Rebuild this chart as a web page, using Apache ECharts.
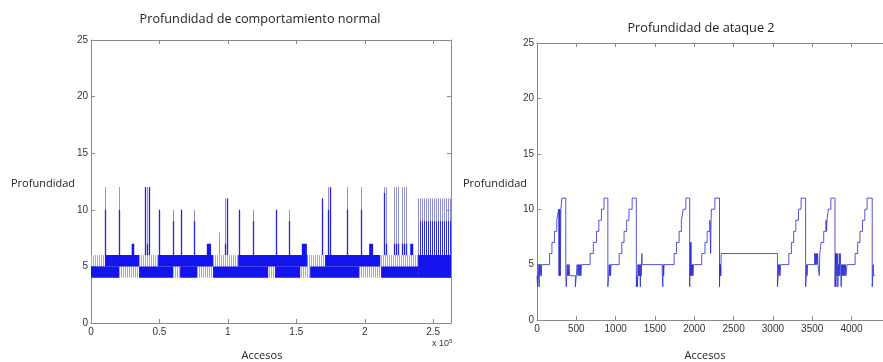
<!DOCTYPE html>
<html>
<head>
<meta charset="utf-8">
<script src="https://cdn.jsdelivr.net/npm/echarts@6.0.0/dist/echarts.min.js"></script>
<style>
html,body{margin:0;padding:0;background:#fff}
#chart{width:883px;height:362px}
</style>
</head>
<body>
<div id="chart"></div>
<script>
// --- comportamiento normal (x in accesos) ---
// zonas de oscilacion rapida [desde, hasta, min, max]
var normSparse = [[0, 239000, 4, 6]];
var normLow = [[0, 20500, 4, 5], [35100, 59900, 4, 5], [65100, 77500, 4, 5], [89200, 129400, 4, 5],
               [134500, 152800, 4, 5], [160100, 195900, 4, 5], [212000, 239000, 4, 5]];
var normHigh = [[10200, 35100, 5, 6], [49000, 89200, 5, 6], [107500, 158000, 5, 6], [171000, 211300, 5, 6]];
var normBumps = [[29700, 31600, 6, 7], [84600, 87700, 6, 7], [154000, 157700, 6, 7],
                 [203200, 206100, 6, 7], [233200, 235400, 6, 7]];
var normDense = [[239000, 263000, 4, 11]];
var normDenseCore = [[240500, 263000, 4, 9]];
var normDenseBase = [[239000, 263000, 4, 6]];
// picos [acceso, profundidad max, profundidad frecuente]
var normSpikes = [[10200, 12, 10], [20500, 12, 10], [39500, 12, 12], [40700, 12, 7], [42600, 12, 12],
  [49900, 10, 10], [60200, 10, 9], [65600, 10, 10], [75500, 10, 9], [93600, 8, 6], [98000, 11, 7],
  [99200, 11, 11], [108000, 10, 10], [118200, 10, 9], [135200, 10, 10], [145000, 10, 9],
  [169100, 11, 11], [173000, 12, 10], [174700, 12, 12], [186900, 12, 10], [197400, 12, 10],
  [213700, 12, 11.5], [215400, 12, 7], [221500, 12, 7], [223000, 12, 7], [224400, 12, 7],
  [227100, 12, 7], [228500, 12, 7], [230300, 12, 7]];

// --- ataque 2: [acceso, profundidad] escalonado ---
var ataque2 = [[0,4],[8,3],[14,5],[20,4],[28,3],[34,5],[40,4],[48,5],[54,4],[60,5],
  [160,6],[190,7],[222,8],[251,9],[276,10],[280,4],[284,10],[288,4],[292,10],[296,4],[300,7],[304,10],[317,11],[366,4],
  [372,3],[378,4],[384,5],[390,4],[396,5],[402,4],[408,5],[414,4],[488,3],[500,4],[510,5],[520,4],[528,5],[534,4],[540,5],[546,4],[552,5],[558,4],[566,5],
  [675,6],[716,7],[757,8],[786,9],[819,10],[852,11],[901,3],[912,4],[918,5],[924,4],[930,5],[936,4],[942,5],
  [1045,6],[1078,7],[1107,8],[1140,9],[1169,10],[1210,11],[1263,3],[1272,4],[1278,3],[1284,5],[1290,4],[1296,5],[1302,4],[1308,5],[1314,3],[1320,5],[1326,4],[1333,6],[1338,5],
  [1593,4],[1600,3],[1606,5],[1611,4],[1616,5],
  [1744,6],[1774,7],[1807,8],[1836,9],[1860,10],[1893,11],[1942,3],[1950,7],[1954,4],[1958,7],[1962,4],[1966,5],[1972,4],[1978,5],[1984,4],[1991,5],
  [2095,6],[2136,7],[2164,8],[2198,9],[2208,6],[2214,9],[2218,10],[2262,11],[2321,3],[2326,5],[2330,4],[2334,5],[2338,4],[2342,6],
  [3058,3],[3066,4],[3072,5],[3078,4],[3084,5],[3090,4],[3099,5],
  [3202,6],[3235,7],[3264,8],[3292,9],[3325,10],[3358,11],[3416,3],[3425,4],[3430,5],[3435,4],[3440,5],
  [3531,6],[3538,5],[3544,6],[3550,5],[3556,6],[3562,5],[3568,6],[3574,5],[3590,4],[3596,6],[3613,7],[3646,8],[3675,9],[3682,8],[3688,9],[3704,10],[3737,11],[3790,3],
  [3796,6],[3802,3],[3808,6],[3814,4],[3820,6],[3826,3],[3832,5],[3838,4],[3844,6],[3850,4],[3856,6],[3862,5],[3868,3],[3874,5],[3880,4],[3886,5],[3892,4],[3898,5],[3904,4],[3910,5],[3916,4],[3922,5],[3928,4],[3942,5],
  [4045,6],[4078,7],[4107,8],[4140,9],[4169,10],[4198,11],[4263,3],[4270,4],[4276,5],[4282,4],[4300,4]];

var axisGray = '#8a8a8a';
var labelFont = { fontFamily: 'Liberation Sans', fontSize: 10, color: '#333' };

function bandItem(color) {
  return function (params, api) {
    var a = api.coord([api.value(0), api.value(3)]);
    var b = api.coord([api.value(1), api.value(2)]);
    return { type: 'rect', shape: { x: a[0], y: a[1], width: b[0] - a[0], height: b[1] - a[1] }, style: { fill: color } };
  };
}
function stripeItem(color, gap) {
  return function (params, api) {
    var a = api.coord([api.value(0), api.value(3)]);
    var b = api.coord([api.value(1), api.value(2)]);
    var kids = [];
    for (var x = Math.round(a[0]) + 0.5; x < b[0]; x += gap) {
      kids.push({ type: 'line', shape: { x1: x, y1: a[1], x2: x, y2: b[1] }, style: { stroke: color, lineWidth: 1 } });
    }
    return { type: 'group', children: kids };
  };
}
function spikeItem(params, api) {
  var base = api.coord([api.value(0), 6]);
  var top = api.coord([api.value(0), api.value(1)]);
  var mid = api.coord([api.value(0), api.value(2)]);
  var x = Math.round(base[0]) + 0.5;
  return { type: 'group', children: [
    { type: 'line', shape: { x1: x, y1: base[1], x2: x, y2: top[1] }, style: { stroke: '#9494d0', lineWidth: 1 } },
    { type: 'line', shape: { x1: x, y1: base[1], x2: x, y2: mid[1] }, style: { stroke: '#2424e0', lineWidth: 1.3 } }
  ] };
}
function custom(data, render, z) {
  return { type: 'custom', xAxisIndex: 0, yAxisIndex: 0, data: data, renderItem: render, clip: true, z: z,
           encode: { x: [0, 1], y: [2, 3] }, silent: true };
}

function bottomAxis(grid, max, interval, fmt) {
  return { type: 'value', gridIndex: grid, min: 0, max: max, interval: interval,
    axisLine: { onZero: false, lineStyle: { color: axisGray } },
    axisTick: { inside: true, length: 4, lineStyle: { color: axisGray } },
    axisLabel: Object.assign({ margin: 4, showMaxLabel: false, formatter: fmt }, labelFont),
    splitLine: { show: false } };
}
function topAxis(grid, max, interval) {
  return { type: 'value', gridIndex: grid, position: 'top', min: 0, max: max, interval: interval,
    axisLine: { onZero: false, lineStyle: { color: axisGray } },
    axisTick: { inside: true, length: 4, lineStyle: { color: axisGray } },
    axisLabel: { show: false }, splitLine: { show: false } };
}
function sideAxis(grid, pos, labels) {
  return { type: 'value', gridIndex: grid, position: pos, min: 0, max: 25, interval: 5,
    axisLine: { onZero: false, lineStyle: { color: axisGray } },
    axisTick: { inside: true, length: 4, lineStyle: { color: axisGray } },
    axisLabel: Object.assign({ show: labels, margin: 3 }, labelFont),
    splitLine: { show: false } };
}

var chart = echarts.init(document.getElementById('chart'));
chart.setOption({
  animation: false,
  backgroundColor: '#fff',
  grid: [
    { left: 91, top: 40, width: 360, height: 283, show: false },
    { left: 537, top: 43, width: 355, height: 277, show: false }
  ],
  xAxis: [
    bottomAxis(0, 263000, 50000, function (v) { return String(v / 100000); }),
    topAxis(0, 263000, 50000),
    bottomAxis(1, 4400, 500, function (v) { return String(v); }),
    topAxis(1, 4400, 500)
  ],
  yAxis: [
    sideAxis(0, 'left', true),
    sideAxis(0, 'right', false),
    sideAxis(1, 'left', true)
  ],
  series: [
    custom(normSparse, stripeItem('#a8a8de', 2), 1),
    custom(normDense, stripeItem('#8e8ed2', 2), 1),
    custom(normDenseCore, stripeItem('#2a2ae2', 2), 2),
    custom(normLow, bandItem('#1414ee'), 3),
    custom(normHigh, bandItem('#1414ee'), 3),
    custom(normBumps, bandItem('#1414ee'), 3),
    custom(normDenseBase, bandItem('#1414ee'), 3),
    { type: 'custom', xAxisIndex: 0, yAxisIndex: 0, data: normSpikes, renderItem: spikeItem, clip: true, z: 4,
      encode: { x: 0, y: [1, 2] }, silent: true },
    { type: 'line', xAxisIndex: 2, yAxisIndex: 2, data: ataque2, step: 'end', symbol: 'none', silent: true,
      lineStyle: { color: '#2a2ad0', width: 0.8 } }
  ],
  graphic: [
    { type: 'text', style: { x: 260, y: 19, text: 'Profundidad de comportamiento normal', fontFamily: 'Open Sans', fontSize: 12.7, fill: '#222', align: 'center', verticalAlign: 'middle' } },
    { type: 'text', style: { x: 701, y: 28, text: 'Profundidad de ataque 2', fontFamily: 'Open Sans', fontSize: 12.7, fill: '#222', align: 'center', verticalAlign: 'middle' } },
    { type: 'text', style: { x: 11, y: 184, text: 'Profundidad', fontFamily: 'Open Sans', fontSize: 11, fill: '#222', verticalAlign: 'middle' } },
    { type: 'text', style: { x: 463, y: 184, text: 'Profundidad', fontFamily: 'Open Sans', fontSize: 11, fill: '#222', verticalAlign: 'middle' } },
    { type: 'text', style: { x: 262, y: 356, text: 'Accesos', fontFamily: 'Open Sans', fontSize: 11, fill: '#222', align: 'center', verticalAlign: 'middle' } },
    { type: 'text', style: { x: 705, y: 356, text: 'Accesos', fontFamily: 'Open Sans', fontSize: 11, fill: '#222', align: 'center', verticalAlign: 'middle' } },
    { type: 'text', style: { x: 432, y: 344, text: 'x 10{s|5}', fontFamily: 'Liberation Sans', fontSize: 9, fill: '#333', verticalAlign: 'middle',
      rich: { s: { fontSize: 6, verticalAlign: 'top', padding: [0, 0, 6, 0], fill: '#333' } } } }
  ]
});
</script>
</body>
</html>
